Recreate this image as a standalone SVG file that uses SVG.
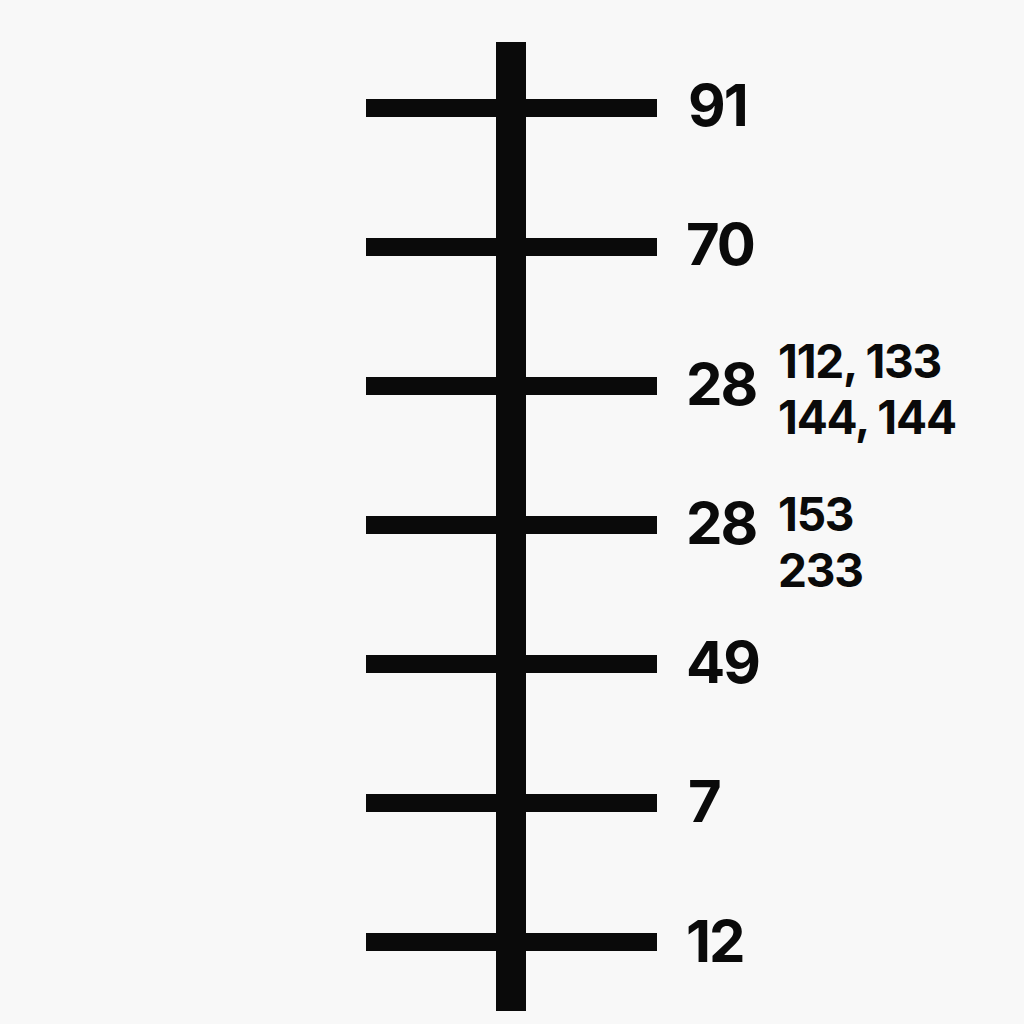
<svg xmlns="http://www.w3.org/2000/svg" width="1024" height="1024" viewBox="0 0 1024 1024">
<style>
.bar{fill:#0a0a0a}
.main{font-family:Inter,"Liberation Sans",sans-serif;font-weight:700;font-size:58px;letter-spacing:-2px;fill:#0a0a0a}
.side{font-family:Inter,"Liberation Sans",sans-serif;font-weight:700;font-size:46px;letter-spacing:-1.2px;fill:#0a0a0a}
</style>
<rect width="1024" height="1024" fill="#f8f8f8"/>
<g id="connectors">
<rect class="bar" x="496" y="42" width="30" height="969"/>
</g>
<g id="tick-91"><rect class="bar" x="366" y="99" width="291" height="18"/><text class="main" x="688" y="126">91</text></g>
<g id="tick-70"><rect class="bar" x="366" y="238" width="291" height="18"/><text class="main" x="686" y="265">70</text></g>
<g id="tick-28a"><rect class="bar" x="366" y="377" width="291" height="18"/><text class="main" x="686" y="405">28</text>
<text class="side" x="778" y="378">112, 133</text><text class="side" x="778" y="434">144, 144</text></g>
<g id="tick-28b"><rect class="bar" x="366" y="516" width="291" height="18"/><text class="main" x="686" y="544">28</text>
<text class="side" x="778" y="531">153</text><text class="side" x="778" y="587">233</text></g>
<g id="tick-49"><rect class="bar" x="366" y="655" width="291" height="18"/><text class="main" x="686" y="683">49</text></g>
<g id="tick-7"><rect class="bar" x="366" y="794" width="291" height="18"/><text class="main" x="688" y="822">7</text></g>
<g id="tick-12"><rect class="bar" x="366" y="933" width="291" height="18"/><text class="main" x="686" y="962">12</text></g>
</svg>
